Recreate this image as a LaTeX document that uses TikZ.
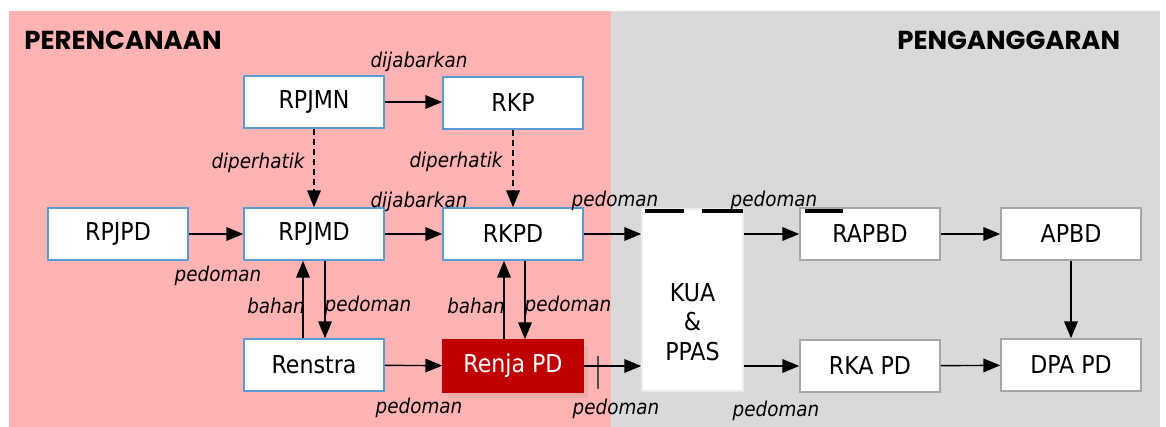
\documentclass[tikz,border=0pt]{standalone}
\usepackage{fontspec}
\setmainfont{DejaVu Sans Condensed}
\newfontfamily\titlefont{Poppins}
\usepackage{xcolor}
\usetikzlibrary{arrows.meta, positioning, calc, shadows}

\definecolor{planpink}{RGB}{255,179,179}
\definecolor{budgetgray}{RGB}{217,217,217}
\definecolor{boxblue}{RGB}{91,155,213}
\definecolor{boxgray}{RGB}{166,166,166}
\definecolor{renjared}{RGB}{192,0,0}

\begin{document}
\begin{tikzpicture}[x=0.025cm, y=-0.025cm,
    box/.style={rectangle, draw=boxblue, line width=1.1pt, fill=white, minimum width=3.5cm,
        minimum height=1.3cm, inner sep=0pt, font=\fontsize{17.5}{19}\selectfont},
    gbox/.style={box, draw=boxgray},
    lbl/.style={font=\fontsize{14.5}{16}\selectfont\itshape, inner sep=0pt},
    arr/.style={-{Triangle[length=4.2mm,width=3.4mm]}, line width=1pt},
    head/.style={font=\titlefont\bfseries\fontsize{18.5}{20}\selectfont, anchor=west, inner sep=0pt}]
    \useasboundingbox (0,0) rectangle (1166,427);
    % background
    \fill[planpink] (9,11) rectangle (611,427);
    \fill[budgetgray] (611,11) rectangle (1160,427);
    \node[head] (plan) at (24,40) {PERENCANAAN};
    \node[head] (budget) at (897,40) {PENGANGGARAN};

    % perencanaan
    \node[box] (rpjmn) at (314,102) {RPJMN};
    \node[box] (rkp) at (513,103) {RKP};
    \node[box] (rpjpd) at (118,234) {RPJPD};
    \node[box] (rpjmd) at (314,234) {RPJMD};
    \node[box] (rkpd) at (513,234) {RKPD};
    \node[box] (renstra) at (314,365) {Renstra};
    \node[box, fill=renjared, draw=renjared, text=white,
        drop shadow={shadow xshift=0.12cm, shadow yshift=-0.15cm, opacity=0.15}] (renja) at (513,366) {Renja PD};

    % penganggaran
    \node[gbox, draw=white!85!gray, minimum width=2.525cm, minimum height=4.55cm,
        label={[font=\fontsize{17.5}{21}\selectfont, align=center, yshift=-0.55cm]center:KUA\\\&\\PPAS}] (kua) at (692.5,300) {};
    \node[gbox] (rapbd) at (870,234) {RAPBD};
    \node[gbox] (apbd) at (1071,234) {APBD};
    \node[gbox] (rka) at (870,366) {RKA PD};
    \node[gbox] (dpa) at (1071,365) {DPA PD};
    \draw[line width=2.2pt] (645,211) -- (684,211) (702,211) -- (743,211) (805,211) -- (843,211);
    \draw[black!70, line width=1pt] (598,356) -- (598,389);

    % arrows
    \draw[arr] (rpjmn.east) -- (rpjmn.east -| rkp.west);
    \draw[arr, dash pattern=on 1.5mm off 1mm] (rpjmn) -- (rpjmd);
    \draw[arr, dash pattern=on 1.5mm off 1mm] (rkp) -- (rkpd);
    \draw[arr] (rpjpd) -- (rpjmd);
    \draw[arr] (rpjmd) -- (rkpd);
    \draw[arr] (rkpd.east) -- (rkpd.east -| kua.west);
    \draw[arr] (kua.east |- rapbd) -- (rapbd.west);
    \draw[arr] (rapbd) -- (apbd);
    \draw[arr] (apbd) -- (dpa);
    \draw[arr] ([xshift=-0.275cm]renstra.north) -- ([xshift=-0.275cm]rpjmd.south);
    \draw[arr] ([xshift=0.275cm]rpjmd.south) -- ([xshift=0.275cm]renstra.north);
    \draw[arr] ([xshift=-0.225cm]renja.north) -- ([xshift=-0.225cm]rkpd.south);
    \draw[arr] ([xshift=0.3cm]rkpd.south) -- ([xshift=0.3cm]renja.north);
    \draw[arr] (renstra) -- (renja);
    \draw[arr] (renja.east) -- (renja.east -| kua.west);
    \draw[arr] (kua.east |- rka) -- (rka.west);
    \draw[arr] (rka) -- (dpa);

    % labels
    \node[lbl] (jab1) at (419,62) {dijabarkan};
    \node[lbl] (jab2) at (419,202) {dijabarkan};
    \node[lbl] (hat1) at (258,163) {diperhatik};
    \node[lbl] (hat2) at (456,162) {diperhatik};
    \node[lbl] (ped1) at (218,276) {pedoman};
    \node[lbl, anchor=east] (bhn1) at (305,306) {bahan};
    \node[lbl] (ped2) at (368,306) {pedoman};
    \node[lbl, anchor=east] (bhn2) at (505,306) {bahan};
    \node[lbl] (ped3) at (568,306) {pedoman};
    \node[lbl] (ped4) at (419,408) {pedoman};
    \node[lbl] (ped5) at (616,409) {pedoman};
    \node[lbl] (ped6) at (615,201) {pedoman};
    \node[lbl] (ped7) at (774,201) {pedoman};
    \node[lbl] (ped8) at (776,411) {pedoman};
\end{tikzpicture}
\end{document}
